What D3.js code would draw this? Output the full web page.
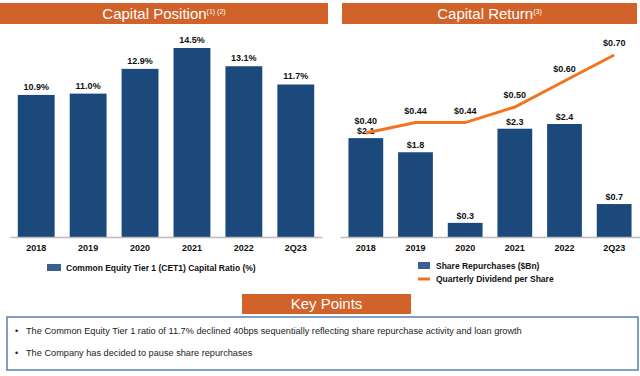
<!DOCTYPE html>
<html>
<head>
<meta charset="utf-8">
<script src="https://cdn.jsdelivr.net/npm/d3@7"></script>
<style>
  body { margin: 0; background: #fff; }
  svg { display: block; font-family: "Liberation Sans", Arial, sans-serif; }
</style>
</head>
<body>
<div id="chart"></div>
<script>
// chart data
var periods = ["2018", "2019", "2020", "2021", "2022", "2Q23"];
var cet1 = [10.9, 11.0, 12.9, 14.5, 13.1, 11.7];
var cet1Labels = ["10.9%", "11.0%", "12.9%", "14.5%", "13.1%", "11.7%"];
var buybacks = [2.1, 1.8, 0.3, 2.3, 2.4, 0.7];
var buybackLabels = ["$2.1", "$1.8", "$0.3", "$2.3", "$2.4", "$0.7"];
var dividends = [0.40, 0.44, 0.44, 0.50, 0.60, 0.70];
var dividendLabels = ["$0.40", "$0.44", "$0.44", "$0.50", "$0.60", "$0.70"];
var keyPoints = [
    "The Common Equity Tier 1 ratio of 11.7% declined 40bps sequentially reflecting share repurchase activity and loan growth",
    "The Company has decided to pause share repurchases"
];

var W = 640, H = 376;
var orange = "#d0622a", blue = "#1b497c", lineOrange = "#f47320";

var svg = d3.select("#chart").append("svg")
    .attr("width", W).attr("height", H);

// header bars
function header(x, w, y, h, title, sup, size) {
    svg.append("rect").attr("x", x).attr("y", y).attr("width", w).attr("height", h)
        .attr("fill", orange);
    var t = svg.append("text")
        .attr("x", x + w / 2).attr("y", y + h / 2 + size * 0.36)
        .attr("text-anchor", "middle")
        .attr("fill", "#fff")
        .style("font-size", size + "px")
        .text(title);
    if (sup) {
        t.append("tspan").attr("dy", -5).style("font-size", "7px").text(sup);
    }
}
header(0, 328, 3, 21, "Capital Position", "(1) (2)", 15);
header(342, 295, 3, 21, "Capital Return", "(3)", 15);

var baseY = 237;

// ---------- left: CET1 ----------
var xL = d3.scaleBand().domain(periods).range([10, 322]).paddingInner(0.29).paddingOuter(0.15);
var yL = d3.scaleLinear().domain([0, 14.5]).range([baseY, 48]);

var gL = svg.append("g");
gL.selectAll(".barL").data(cet1).enter().append("rect")
    .attr("class", "barL")
    .attr("x", function (d, i) { return xL(periods[i]); })
    .attr("y", function (d) { return yL(d); })
    .attr("width", xL.bandwidth())
    .attr("height", function (d) { return baseY - yL(d); })
    .attr("fill", blue);

gL.selectAll(".lblL").data(cet1).enter().append("text")
    .attr("x", function (d, i) { return xL(periods[i]) + xL.bandwidth() / 2; })
    .attr("y", function (d) { return yL(d) - 5; })
    .attr("text-anchor", "middle")
    .style("font-size", "9px").style("font-weight", "bold").attr("fill", "#111")
    .text(function (d, i) { return cet1Labels[i]; });

var axL = gL.append("g").attr("transform", "translate(0," + baseY + ")")
    .call(d3.axisBottom(xL).tickSize(0).tickPadding(8));
axL.select(".domain").attr("stroke", "#bbb").attr("stroke-width", 1.5);
axL.selectAll("text").style("font-size", "9px").style("font-weight", "bold")
    .style("font-family", "Liberation Sans, Arial, sans-serif").attr("fill", "#111");

// legend left
svg.append("rect").attr("x", 47).attr("y", 264).attr("width", 14).attr("height", 7).attr("fill", "#3a5f93");
svg.append("text").attr("x", 66).attr("y", 271)
    .style("font-size", "8.5px").style("font-weight", "bold").attr("fill", "#111")
    .text("Common Equity Tier 1 (CET1) Capital Ratio (%)");

// ---------- right: capital return ----------
var xR = d3.scaleBand().domain(periods).range([340, 640]).paddingInner(0.3).paddingOuter(0.17);
var yR = d3.scaleLinear().domain([0, 2.4]).range([baseY, 124]);
var yD = d3.scaleLinear().domain([0, 0.70]).range([baseY, 55]);

var gR = svg.append("g");
gR.selectAll(".barR").data(buybacks).enter().append("rect")
    .attr("class", "barR")
    .attr("x", function (d, i) { return xR(periods[i]); })
    .attr("y", function (d) { return yR(d); })
    .attr("width", xR.bandwidth())
    .attr("height", function (d) { return baseY - yR(d); })
    .attr("fill", blue);

gR.selectAll(".lblR").data(buybacks).enter().append("text")
    .attr("x", function (d, i) { return xR(periods[i]) + xR.bandwidth() / 2; })
    .attr("y", function (d) { return yR(d) - 4; })
    .attr("text-anchor", "middle")
    .style("font-size", "9px").style("font-weight", "bold").attr("fill", "#111")
    .text(function (d, i) { return buybackLabels[i]; });

var line = d3.line()
    .x(function (d, i) { return xR(periods[i]) + xR.bandwidth() / 2; })
    .y(function (d) { return yD(d); });
gR.append("path").datum(dividends)
    .attr("d", line)
    .attr("fill", "none")
    .attr("stroke", lineOrange)
    .attr("stroke-width", 3);

gR.selectAll(".lblD").data(dividends).enter().append("text")
    .attr("x", function (d, i) { return xR(periods[i]) + xR.bandwidth() / 2; })
    .attr("y", function (d) { return yD(d) - 9; })
    .attr("text-anchor", "middle")
    .style("font-size", "9px").style("font-weight", "bold").attr("fill", "#111")
    .text(function (d, i) { return dividendLabels[i]; });

var axR = gR.append("g").attr("transform", "translate(0," + baseY + ")")
    .call(d3.axisBottom(xR).tickSize(0).tickPadding(8));
axR.select(".domain").attr("stroke", "#bbb").attr("stroke-width", 1.5);
axR.selectAll("text").style("font-size", "9px").style("font-weight", "bold")
    .style("font-family", "Liberation Sans, Arial, sans-serif").attr("fill", "#111");

// legend right
svg.append("rect").attr("x", 418).attr("y", 262).attr("width", 12).attr("height", 7).attr("fill", "#3a5f93");
svg.append("text").attr("x", 436).attr("y", 269)
    .style("font-size", "8.5px").style("font-weight", "bold").attr("fill", "#111")
    .text("Share Repurchases ($Bn)");
svg.append("line").attr("x1", 418).attr("x2", 430).attr("y1", 279).attr("y2", 279)
    .attr("stroke", lineOrange).attr("stroke-width", 3);
svg.append("text").attr("x", 436).attr("y", 282)
    .style("font-size", "8.5px").style("font-weight", "bold").attr("fill", "#111")
    .text("Quarterly Dividend per Share");

// ---------- key points ----------
header(242, 169, 294, 20, "Key Points", null, 15);
svg.append("rect").attr("x", 7).attr("y", 317).attr("width", 631).attr("height", 53)
    .attr("fill", "none").attr("stroke", "#5b7fb0").attr("stroke-width", 1.5);

var kp = svg.selectAll(".kp").data(keyPoints).enter().append("g")
    .attr("class", "kp")
    .attr("transform", function (d, i) { return "translate(0," + (334 + i * 22) + ")"; });
kp.append("text").attr("x", 15).style("font-size", "9px").attr("fill", "#222").text("\u2022");
kp.append("text").attr("x", 26)
    .style("font-size", "9.2px").attr("fill", "#222")
    .text(function (d) { return d; });
</script>
</body>
</html>
